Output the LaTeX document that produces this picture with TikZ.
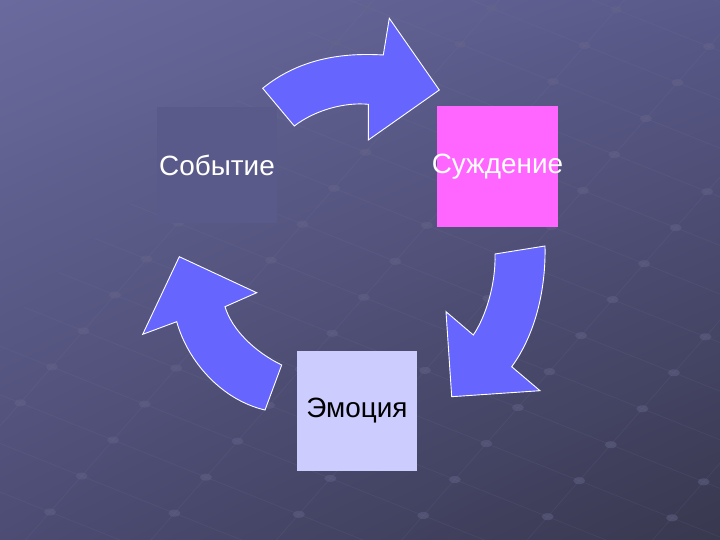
\documentclass[tikz,border=0pt]{standalone}
\usepackage{fontspec}
\setmainfont{Liberation Sans}
\usetikzlibrary{shadings}
\definecolor{bgA}{HTML}{6A6A9E}
\definecolor{bgB}{HTML}{59598A}
\definecolor{bgC}{HTML}{4C4C74}
\definecolor{bgD}{HTML}{38384F}
\definecolor{arrowblue}{HTML}{6666FF}
\definecolor{evbox}{HTML}{5A5A8A}
\definecolor{judgebox}{HTML}{FF66FF}
\definecolor{emobox}{HTML}{CCCCFF}
\definecolor{gridline}{HTML}{8A8AB0}
\definecolor{griddot}{HTML}{65658A}
\begin{document}
\begin{tikzpicture}[x=1bp,y=-1bp,
  box/.style={draw=none, inner sep=0pt, minimum width=120bp, minimum height=118bp},
  boxtext/.style={font=\fontsize{28}{34}\selectfont},
  blockarrow/.style={fill=arrowblue, draw=white, line width=0.9bp, line join=miter},
  gline/.style={draw=gridline, line width=0.8bp, opacity=0.1},
  gdot/.style={fill=griddot, opacity=0.45}]
\useasboundingbox (0,0) rectangle (720,540);
\shade[upper left=bgA, upper right=bgB, lower left=bgC, lower right=bgD] (0,0) rectangle (720,540);
% perspective grid
\begin{scope}
  \clip (340,0) -- (720,0) -- (720,540) -- (0,540) -- (0,330) -- cycle;
  \foreach \c in {-480,-431.4,...,640} {
    \draw[gline] (0,\c) -- (720,{0.4*720+\c});
  }
  \foreach \d in {140,283,...,1600} {
    \draw[gline] ({\d/1.14},0) -- ({(\d-540)/1.14},540);
  }
  \foreach \c in {-480,-431.4,...,640} {
    \foreach \d in {140,283,...,1600} {
      \pgfmathsetmacro{\xx}{(\d-\c)/1.54}
      \pgfmathsetmacro{\yy}{0.4*\xx+\c}
      \fill[gdot] (\xx,\yy) ellipse [x radius=6bp, y radius=3.5bp];
    }
  }
\end{scope}
% boxes
\node[box, fill=evbox, minimum width=120bp, minimum height=116bp,
  label={[boxtext, text=white]center:Событие}] (event) at (217,165) {};
\node[box, fill=judgebox, minimum width=121bp, minimum height=120bp,
  label={[boxtext, text=white]center:Суждение}] (judge) at (497.5,166.5) {};
\node[box, fill=emobox, minimum width=120bp, minimum height=120bp,
  label={[boxtext, text=black]center:Эмоция}] (emotion) at (357,410.5) {};
% block arrows
\draw[blockarrow] (262.7,88.3) .. controls (295,62) and (335,52) .. (383.3,55)
  -- (389.3,18.3) -- (439.3,90) -- (368.3,140) -- (368.3,104.3)
  .. controls (345,102) and (315,110) .. (294.3,126) -- cycle;
\draw[blockarrow] (495,254) -- (545,246) .. controls (546,290) and (535,335) .. (511.7,366.7)
  -- (540,390.7) -- (451.7,396.7) -- (446,311.7) -- (473.3,335)
  .. controls (485,318) and (496,285) .. (495,254) -- cycle;
\draw[blockarrow] (265,410) -- (281.7,365) .. controls (255,352) and (232,330) .. (225,306.7)
  -- (256.7,292.7) -- (179.3,256.7) -- (142.7,334.3) -- (176.7,321.7)
  .. controls (188,362) and (222,400) .. (265,410) -- cycle;
\end{tikzpicture}
\end{document}
